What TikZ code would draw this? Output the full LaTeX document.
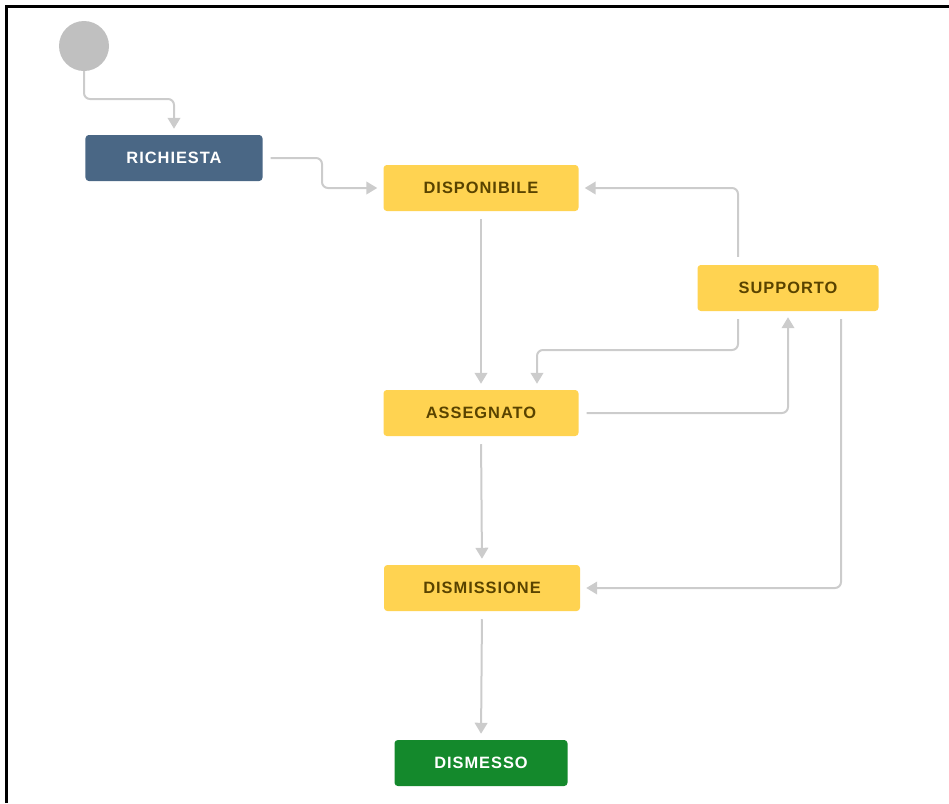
\documentclass[tikz,border=0pt]{standalone}
\usepackage{fontspec}
\setmainfont{Liberation Sans}
\newfontfamily\statefont[LetterSpace=6]{Liberation Sans}
\usetikzlibrary{arrows.meta}
\definecolor{todoblue}{HTML}{4A6785}
\definecolor{progyellow}{HTML}{FFD351}
\definecolor{progtext}{HTML}{594300}
\definecolor{donegreen}{HTML}{14892C}
\definecolor{linkgray}{HTML}{CCCCCC}
\definecolor{startgray}{HTML}{C0C0C0}
\begin{document}
\begin{tikzpicture}[x=0.03cm, y=-0.03cm,
    state/.style={rectangle, rounded corners=0.1cm, minimum height=1.38cm, inner sep=0pt,
        font=\statefont\fontsize{14}{16}\selectfont\bfseries},
    todo/.style={state, fill=todoblue, text=white},
    prog/.style={state, fill=progyellow, text=progtext},
    done/.style={state, fill=donegreen, text=white},
    conn/.style={draw=linkgray, line width=0.06cm, rounded corners=0.18cm,
        -{Triangle[length=0.33cm, width=0.38cm]}, shorten <=0.24cm, shorten >=0.18cm}]
    \useasboundingbox (0,0) rectangle (949,803);
    \draw[line width=0.09cm] (6,803) -- (6,6) -- (949,6);
    \node[circle, fill=startgray, minimum size=1.5cm, inner sep=0pt] (start) at (84,46) {};
    \node[todo, minimum width=5.31cm] (rich) at (174,158) {RICHIESTA};
    \node[prog, minimum width=5.85cm] (disp) at (481,188) {DISPONIBILE};
    \node[prog, minimum width=5.43cm] (supp) at (788,288) {SUPPORTO};
    \node[prog, minimum width=5.85cm] (asse) at (481,413) {ASSEGNATO};
    \node[prog, minimum width=5.88cm] (dism) at (482,588) {DISMISSIONE};
    \node[done, minimum width=5.19cm] (dmes) at (481,763) {DISMESSO};
    \draw[conn, shorten <=0pt] (start.south) -- (84,99) -| (rich.north);
    \draw[conn] (rich.east) -- (322,158) |- (disp.west);
    \draw[conn] (disp.south) -- (asse.north);
    \draw[conn] ([xshift=-1.5cm]supp.north) |- (disp.east);
    \draw[conn] ([xshift=-1.5cm]supp.south) -- (738,350) -| ([xshift=1.68cm]asse.north);
    \draw[conn] (asse.east) -| (supp.south);
    \draw[conn] ([xshift=1.59cm]supp.south) |- (dism.east);
    \draw[conn] (asse.south) -- (dism.north);
    \draw[conn] (dism.south) -- (dmes.north);
\end{tikzpicture}
\end{document}
